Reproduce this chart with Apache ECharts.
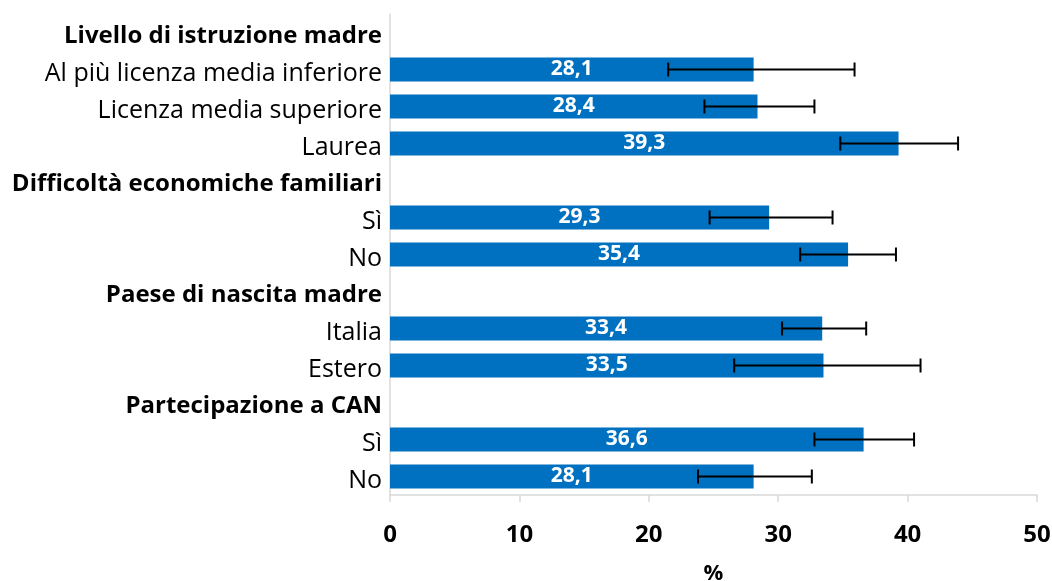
<!DOCTYPE html>
<html>
<head>
<meta charset="utf-8">
<script src="https://cdn.jsdelivr.net/npm/echarts@6/dist/echarts.min.js"></script>
<style>
  html, body { margin: 0; padding: 0; background: #fff; }
  #main { width: 1052px; height: 581px; }
</style>
</head>
<body>
<div id="main"></div>
<script>
// categorie (le intestazioni di gruppo non hanno valore)
var categories = [
  'Livello di istruzione madre',
  'Al più licenza media inferiore',
  'Licenza media superiore',
  'Laurea',
  'Difficoltà economiche familiari',
  'Sì',
  'No',
  'Paese di nascita madre',
  'Italia',
  'Estero',
  'Partecipazione a CAN',
  'Sì ',
  'No '
];
var headers = [0, 4, 7, 10];
var values = [null, 28.1, 28.4, 39.3, null, 29.3, 35.4, null, 33.4, 33.5, null, 36.6, 28.1];
var lower  = [null, 21.5, 24.3, 34.8, null, 24.7, 31.7, null, 30.3, 26.6, null, 32.8, 23.8];
var upper  = [null, 35.9, 32.8, 43.9, null, 34.2, 39.1, null, 36.8, 41.0, null, 40.5, 32.6];
var xTicks = [0, 10, 20, 30, 40, 50];

var font = 'Open Sans';
var myChart = echarts.init(document.getElementById('main'));

var errData = [];
for (var i = 0; i < categories.length; i++) {
  if (values[i] !== null) errData.push([i, lower[i], upper[i]]);
}

var option = {
  animation: false,
  grid: { left: 390, right: 15, top: 14, bottom: 86, containLabel: false, outerBoundsMode: 'none' },
  xAxis: {
    type: 'value',
    min: xTicks[0],
    max: xTicks[xTicks.length - 1],
    interval: 10,
    name: '%',
    nameLocation: 'middle',
    nameGap: 68,
    nameTextStyle: { fontFamily: font, fontWeight: 'bold', fontSize: 22, color: '#000' },
    axisLine: { show: true, lineStyle: { color: '#d9d9d9', width: 1.5 } },
    axisTick: { show: true, length: 7, lineStyle: { color: '#d9d9d9', width: 1.5 } },
    axisLabel: { margin: 28, fontFamily: font, fontWeight: 'bold', fontSize: 24, color: '#000' },
    splitLine: { show: false }
  },
  yAxis: {
    type: 'category',
    data: categories,
    inverse: true,
    axisLine: { show: true, lineStyle: { color: '#d9d9d9', width: 1.5 } },
    axisTick: { show: false },
    axisLabel: {
      margin: 8,
      fontFamily: font,
      fontSize: 25,
      color: '#000',
      padding: [8, 0, 0, 0],
      formatter: function (v) {
        var idx = categories.indexOf(v);
        return headers.indexOf(idx) >= 0 ? '{b|' + v + '}' : v.trim();
      },
      rich: {
        b: { fontFamily: font, fontSize: 24, fontWeight: 'bold', color: '#000' }
      }
    }
  },
  series: [
    {
      type: 'bar',
      data: values,
      barCategoryGap: '35%',
      itemStyle: { color: '#0070c0' },
      label: {
        show: true,
        position: 'inside',
        color: '#fff',
        fontFamily: font,
        fontWeight: 'bold',
        fontSize: 21,
        formatter: function (p) {
          return p.value == null ? '' : p.value.toFixed(1).replace('.', ',');
        }
      }
    },
    {
      type: 'custom',
      data: errData,
      z: 10,
      renderItem: function (params, api) {
        var y = api.value(0);
        var a = api.coord([api.value(1), y]);
        var b = api.coord([api.value(2), y]);
        var h = 7;
        var st = { stroke: '#000', lineWidth: 2 };
        return {
          type: 'group',
          children: [
            { type: 'line', shape: { x1: a[0], y1: a[1], x2: b[0], y2: b[1] }, style: st },
            { type: 'line', shape: { x1: a[0], y1: a[1] - h, x2: a[0], y2: a[1] + h }, style: st },
            { type: 'line', shape: { x1: b[0], y1: b[1] - h, x2: b[0], y2: b[1] + h }, style: st }
          ]
        };
      }
    }
  ]
};

myChart.setOption(option);
</script>
</body>
</html>
